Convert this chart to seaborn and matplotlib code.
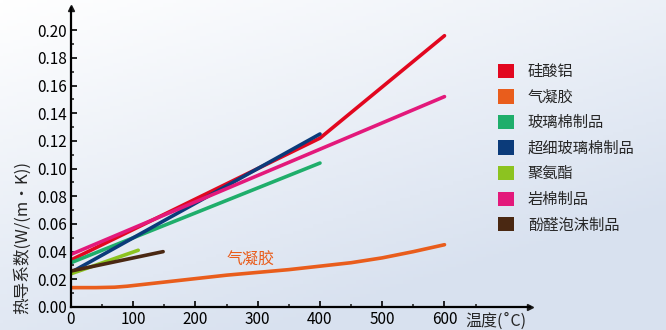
import numpy as np
import pandas as pd
import matplotlib
matplotlib.use("Agg")
import matplotlib.pyplot as plt
import seaborn as sns
from matplotlib.patches import Patch

# ---- data ----
names = ["硅酸铝", "气凝胶", "玻璃棉制品", "超细玻璃棉制品", "聚氨酯", "岩棉制品", "酚醛泡沫制品"]
colors = ["#e2071f", "#e95d1c", "#1fae6b", "#0b3b7a", "#8cc320", "#e3197b", "#4a2812"]

alu_x = [0, 400, 600]
alu_y = [0.034, 0.122, 0.196]
aero_x = [0, 40, 70, 90, 110, 150, 200, 250, 300, 350, 400, 450, 500, 550, 600]
aero_y = [0.014, 0.014, 0.0143, 0.015, 0.016, 0.018, 0.0205, 0.023, 0.025, 0.027, 0.0295, 0.032, 0.0355, 0.040, 0.045]
glass_x = [0, 400]
glass_y = [0.032, 0.104]
ufglass_x = [0, 400]
ufglass_y = [0.025, 0.125]
pu_x = [0, 108]
pu_y = [0.024, 0.041]
rock_x = [0, 600]
rock_y = [0.038, 0.152]
phen_x = [0, 148]
phen_y = [0.026, 0.040]

xticks = [0, 100, 200, 300, 400, 500, 600]
yticks = [0.00, 0.02, 0.04, 0.06, 0.08, 0.10, 0.12, 0.14, 0.16, 0.18, 0.20]

series = [(alu_x, alu_y), (aero_x, aero_y), (glass_x, glass_y), (ufglass_x, ufglass_y),
          (pu_x, pu_y), (rock_x, rock_y), (phen_x, phen_y)]

sns.set_theme(style="white")
plt.rcParams['font.family'] = ['Noto Sans CJK SC', 'DejaVu Sans']

fig = plt.figure(figsize=(6.66, 3.30), dpi=100)

# background gradient
bg = fig.add_axes([0, 0, 1, 1], zorder=-10)
gx = np.linspace(0, 1, 200)
gy = np.linspace(0, 1, 100)
GX, GY = np.meshgrid(gx, gy)
t = np.clip(0.5 * GX + 0.8 * GY, 0, 1)
top = np.array([1.0, 1.0, 1.0])
bot = np.array([0.85, 0.885, 0.94])
img = top[None, None, :] * (1 - t[..., None]) + bot[None, None, :] * t[..., None]
bg.imshow(img, aspect='auto', extent=[0, 1, 0, 1], origin='upper')
bg.axis('off')

ax = fig.add_axes([0.1066, 0.0697, 0.6898, 0.906])
ax.patch.set_alpha(0)

frames = []
for n, (xs, ys) in zip(names, series):
    frames.append(pd.DataFrame({"x": xs, "y": ys, "name": n}))
df = pd.concat(frames, ignore_index=True)
sns.lineplot(data=df, x="x", y="y", hue="name", hue_order=names,
             palette=dict(zip(names, colors)), ax=ax, linewidth=2.6,
             legend=False, estimator=None, sort=False)
ax.set_xlim(0, 738)
ax.set_ylim(0, 0.216)
ax.set_xticks(xticks)
ax.set_xticklabels([str(v) for v in xticks])
ax.set_yticks(yticks)
ax.set_yticklabels([f"{v:.2f}" for v in yticks])
ax.set_xticks(np.arange(50, 651, 100), minor=True)
ax.set_yticks(np.arange(0.01, 0.21, 0.02), minor=True)
ax.tick_params(axis='both', which='major', direction='in', length=4, width=1.2,
               labelsize=11, colors='black', pad=3)
ax.tick_params(axis='both', which='minor', direction='in', length=2.5, width=1.2)
ax.tick_params(axis='x', bottom=True, which='both')
ax.tick_params(axis='y', left=True, which='both')
for s in ['top', 'right']:
    ax.spines[s].set_visible(False)
for s in ['left', 'bottom']:
    ax.spines[s].set_linewidth(1.6)
    ax.spines[s].set_color('black')
ax.set_xlabel("")
ax.set_ylabel("")
ax.plot(1, 0, ">k", transform=ax.transAxes, clip_on=False, markersize=5)
ax.plot(0, 1, "^k", transform=ax.transAxes, clip_on=False, markersize=5)

ax.text(289, 0.034, "气凝胶", color="#e95d1c", fontsize=11.5, ha='center', va='center')

fig.text(465 / 666, 1 - 321 / 330, "温度(˚C)", fontsize=11.5, ha='left', va='center')
fig.text(22 / 666, 1 - 238 / 330, "热导系数(W/(m·K))", fontsize=12, rotation=90,
         ha='center', va='center')

handles = [Patch(facecolor=c, edgecolor='none', label=n) for n, c in zip(names, colors)]
fig.legend(handles=handles, loc='upper left', bbox_to_anchor=(492 / 666, 1 - 57 / 330),
           frameon=False, fontsize=11, handlelength=1.05, handleheight=1.05,
           labelspacing=0.56, handletextpad=0.9, borderaxespad=0)

fig.savefig("out.png", dpi=100)
